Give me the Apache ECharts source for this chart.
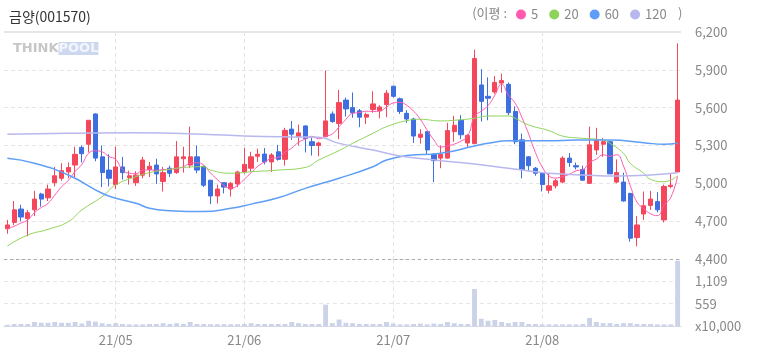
<!DOCTYPE html>
<html>
<head>
<meta charset="utf-8">
<script src="https://cdn.jsdelivr.net/npm/echarts/dist/echarts.min.js"></script>
<style>
html, body { margin: 0; padding: 0; background: #fff; }
#chart { width: 758px; height: 355px; }
</style>
</head>
<body>
<div id="chart"></div>
<script>
// trading days, 2021
var aprDays = [9,12,13,14,15,16,19,20,21,22,23,26,27,28,29,30];
var mayDays = [3,4,6,7,10,11,12,13,14,17,18,20,21,24,25,26,27,28,31];
var junDays = [1,2,3,4,7,8,9,10,11,14,15,16,17,18,21,22,23,24,25,28,29,30];
var julDays = [1,2,5,6,7,8,9,12,13,14,15,16,19,20,21,22,23,26,27,28,29,30];
var augDays = [2,3,4,5,6,9,10,11,12,13,17,18,19,20,23,24,25,26,27,30,31];

var opens = [4640,4690,4796,4720,4790,4915,4885,5005,5040,5090,
  5145,5285,5310,5550,5210,5105,4990,5130,5045,5005,
  5065,5110,5145,5015,5120,5085,5195,5145,5210,5135,
  5025,4900,5005,4955,4995,5090,5120,5215,5232,5170,
  5250,5190,5430,5370,5455,5330,5300,5370,5550,5475,
  5660,5600,5575,5525,5585,5575,5625,5770,5670,5555,
  5510,5365,5410,5230,5200,5200,5410,5500,5320,5315,
  5780,5690,5725,5795,5785,5570,5345,5210,5120,5080,
  4945,4980,5010,5200,5140,5110,5000,5265,5310,5330,
  5010,5010,4920,4570,4757,4825,4855,4710,4975,5090];
var closes = [4670,4790,4733,4767,4875,4875,4955,5060,5100,5125,
  5230,5235,5500,5200,5085,5040,5130,5085,5060,5065,
  5185,5135,5075,5085,5080,5210,5210,5210,5105,4985,
  4900,4955,4970,5000,5090,5150,5210,5230,5170,5225,
  5190,5420,5390,5400,5355,5300,5320,5495,5490,5640,
  5590,5560,5525,5545,5630,5605,5715,5690,5570,5510,
  5375,5390,5265,5180,5230,5418,5460,5385,5380,5990,
  5650,5675,5800,5815,5560,5330,5110,5140,5080,4990,
  4980,5020,5200,5165,5130,5025,5305,5340,5330,5075,
  5085,4860,4565,4670,4822,4875,4790,4975,4985,5660];
var lows = [4600,4670,4700,4580,4740,4815,4860,4975,5020,5040,
  5050,5165,5245,5175,4970,4975,4955,5030,4990,4980,
  5040,5050,4995,4935,5050,5075,5085,5120,5080,4970,
  4835,4840,4920,4895,4970,5075,5090,5170,5150,5090,
  5180,5140,5345,5300,5245,5220,5215,5370,5480,5350,
  5530,5520,5445,5470,5560,5515,5525,5680,5550,5480,
  5320,5315,5225,5010,5120,5195,5330,5350,5285,5310,
  5490,5500,5710,5720,5540,5310,5040,5095,5060,4935,
  4920,4960,5000,5130,5110,5020,4995,5225,5210,5075,
  5000,4855,4537,4500,4710,4790,4770,4690,4960,5090];
var highs = [4710,4860,4830,4790,4940,4925,4990,5130,5160,5165,
  5290,5300,5500,5555,5300,5230,5290,5210,5100,5095,
  5210,5170,5195,5130,5140,5335,5290,5450,5300,5140,
  5025,4990,5005,5010,5100,5280,5250,5275,5280,5240,
  5305,5440,5495,5465,5460,5365,5330,5895,5570,5740,
  5680,5720,5590,5560,5730,5620,5740,5775,5680,5580,
  5520,5430,5415,5240,5300,5480,5535,5540,5390,6060,
  5905,5840,5850,5870,5800,5610,5395,5215,5130,5085,
  5080,5035,5215,5240,5165,5140,5450,5440,5360,5335,
  5190,5085,4925,4740,4935,4940,4930,4990,5080,6110];
// volume, x10,000 shares
var volumes = [30,50,50,50,100,80,80,100,80,80,
  100,60,130,110,70,50,70,50,40,40,
  40,50,50,70,50,70,50,100,50,50,
  45,45,45,45,45,50,70,50,50,50,
  50,50,100,70,50,50,50,530,70,160,
  80,70,50,50,50,50,100,60,40,40,
  50,60,40,60,50,100,70,50,50,920,
  180,130,150,100,70,100,100,50,50,40,
  40,40,40,40,40,50,200,100,70,70,
  50,70,70,50,50,50,40,40,40,1620];

// moving averages (candle index -> value)
var ma5Head = [4640,4660,4685,4710];
var ma20Idx = [0,3,6,9,11,14,16,19,21,24,26,29,30,33,36,40,44,46,49,51,54,56,59,61,64,66,69,71,74,75,77,80,82,85,88,89,91,92,94,95,97,99];
var ma20Val = [4503,4590,4635,4696,4789,4894,4987,5053,5085,5111,5126,5132,5105,5080,5092,5105,5126,5185,5260,5317,5397,5449,5497,5508,5495,5500,5516,5534,5534,5516,5463,5418,5375,5357,5343,5317,5238,5159,5080,5032,5013,5060];
var ma60Idx = [0,4,9,14,16,19,21,24,29,33,36,40,44,49,54,56,59,64,69,71,74,80,84,89,94,97,99];
var ma60Val = [5198,5159,5066,4921,4882,4842,4802,4783,4776,4802,4835,4885,4960,5040,5132,5185,5220,5238,5296,5317,5338,5338,5343,5343,5322,5309,5317];
var ma120Idx = [0,9,19,29,35,44,46,49,54,58,64,69,74,78,80,85,90,95,99];
var ma120Val = [5390,5397,5402,5390,5375,5367,5365,5317,5264,5217,5180,5153,5119,5092,5080,5066,5058,5066,5084];

var volMax = 1663.5;
var volTickLabels = ['x10,000','559','1,109',''];
var maNames = ['5','20','60','120'];

var FONT = '"Noto Sans CJK KR", "Noto Sans", sans-serif';
var UP = '#f5475b', DOWN = '#3e6fe0';

var dates = [];
function addMonth(m, days) {
  days.forEach(function(d){ dates.push('2021-' + m + '-' + (d < 10 ? '0' + d : d)); });
}
addMonth('04', aprDays); addMonth('05', mayDays); addMonth('06', junDays);
addMonth('07', julDays); addMonth('08', augDays);

function isMonthStart(i) {
  return i > 0 && dates[i].slice(5,7) !== dates[i-1].slice(5,7);
}

var candleData = opens.map(function(o, i){ return [o, closes[i], lows[i], highs[i]]; });
var ma5 = closes.map(function(c, i){
  if (i < 4) return ma5Head[i];
  var s = 0;
  for (var k = i - 4; k <= i; k++) s += closes[k];
  return Math.round(s / 5);
});
function pairs(idx, vals) { return idx.map(function(x, k){ return [x, vals[k]]; }); }

function maLine(name, data, color, width) {
  return {
    name: name, type: 'line', xAxisIndex: 0, yAxisIndex: 0,
    data: data, smooth: true, showSymbol: false, symbol: 'none',
    lineStyle: { color: color, width: width }, itemStyle: { color: color },
    z: 3
  };
}

var splitX = { show: true, interval: function(i){ return isMonthStart(i); }, alignWithLabel: true,
  lineStyle: { color: '#e2e2e2', type: [4, 3] } };

var chart = echarts.init(document.getElementById('chart'));
chart.setOption({
  animation: false,
  textStyle: { fontFamily: FONT },
  title: {
    text: '금양(001570)', left: 4, top: 5,
    textStyle: { fontSize: 14, fontWeight: 'normal', color: '#333', fontFamily: FONT }
  },
  legend: {
    data: maNames, left: 516, top: 8, padding: 0, icon: 'circle',
    itemWidth: 10, itemHeight: 10, itemGap: 11,
    textStyle: { fontSize: 13, color: '#888', fontFamily: FONT }
  },
  graphic: [
    { type: 'text', right: 251, top: 7, style: { text: '(이평 :', fill: '#888', font: '13px ' + FONT } },
    { type: 'text', left: 678, top: 7, style: { text: ')', fill: '#888', font: '13px ' + FONT } },
    { type: 'text', left: 13, top: 42, z: 0, style: {
      text: '{a|THINK}{b|POOL}',
      rich: {
        a: { fill: '#c6c6c6', font: 'bold 13px "DejaVu Sans"' },
        b: { fill: '#f3f6fc', font: 'bold 13px "DejaVu Sans"', backgroundColor: '#cdd8ef' }
      }
    } }
  ],
  grid: [
    { left: 4, right: 77, top: 32, height: 227 },
    { left: 4, right: 77, top: 259, height: 67 }
  ],
  xAxis: [
    { type: 'category', gridIndex: 0, data: dates, boundaryGap: true,
      axisLine: { show: false }, axisTick: { show: false }, axisLabel: { show: false },
      splitLine: splitX },
    { type: 'category', gridIndex: 1, data: dates, boundaryGap: true,
      axisLine: { show: true, lineStyle: { color: '#d4d8e6' } }, axisTick: { show: false },
      axisLabel: { show: true, interval: function(i){ return isMonthStart(i); },
        formatter: function(v){ return v.slice(2,4) + '/' + v.slice(5,7); },
        color: '#888', fontSize: 13, margin: 8, fontFamily: FONT },
      splitLine: splitX }
  ],
  yAxis: [
    { type: 'value', gridIndex: 0, position: 'right', min: 4400, max: 6200, interval: 300,
      axisLine: { show: false }, axisTick: { show: false },
      axisLabel: { color: '#888', fontSize: 13, margin: 14, fontFamily: FONT,
        formatter: function(v){ return v.toLocaleString('en-US'); } },
      splitLine: { lineStyle: { color: '#e6e6e6', type: [4, 3] } } },
    { type: 'value', gridIndex: 1, position: 'right', min: 0, max: volMax, interval: volMax / 3,
      axisLine: { show: false }, axisTick: { show: false },
      axisLabel: { color: '#888', fontSize: 13, margin: 14, fontFamily: FONT, showMaxLabel: false,
        formatter: function(v, i){ return volTickLabels[i] || ''; } },
      splitLine: { lineStyle: { color: '#e6e6e6', type: [4, 3] } } }
  ],
  series: [
    { name: 'price', type: 'candlestick', xAxisIndex: 0, yAxisIndex: 0,
      data: candleData, barWidth: '70%',
      itemStyle: { color: UP, color0: DOWN, borderColor: UP, borderColor0: DOWN, borderWidth: 1 },
      markLine: { silent: true, symbol: 'none', label: { show: false }, animation: false,
        data: [
          { yAxis: 6200, lineStyle: { color: '#e6e6e6', type: 'solid', width: 2 } },
          { yAxis: 4400, lineStyle: { color: '#aaaaaa', type: [3, 3], width: 1 } }
        ] } },
    maLine('5', ma5, '#ff5aae', 1),
    maLine('20', pairs(ma20Idx, ma20Val), '#8ed35a', 1),
    maLine('60', pairs(ma60Idx, ma60Val), '#5f9ef6', 1.5),
    maLine('120', pairs(ma120Idx, ma120Val), '#b8b8ef', 1.5),
    { name: 'volume', type: 'bar', xAxisIndex: 1, yAxisIndex: 1, data: volumes,
      barWidth: '72%', itemStyle: { color: '#ccd3e8' } }
  ]
});
</script>
</body>
</html>
